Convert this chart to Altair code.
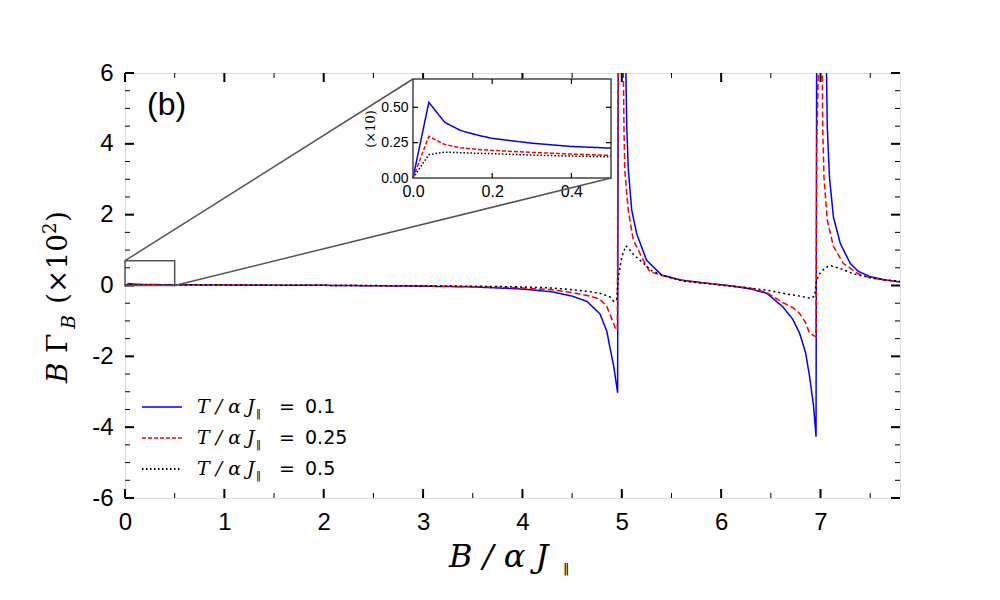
import altair as alt
import pandas as pd

# ---------------- data ----------------
series_keys = ["0.1", "0.25", "0.5"]
colors = ["#0000ff", "#ff0000", "#000000"]

b_blue = [0, 0.04, 0.1, 0.2, 0.5, 1, 2, 3, 3.5, 4, 4.3, 4.5, 4.65, 4.78, 4.85, 4.88, 4.92, 4.958,
          4.965, 4.99, 5.02, 5.04, 5.05, 5.066, 5.1, 5.15, 5.25, 5.4, 5.6, 5.8, 6.1, 6.3, 6.46, 6.62,
          6.72, 6.79, 6.85, 6.89, 6.93, 6.955, 6.962, 7.0, 7.04, 7.06, 7.068, 7.09, 7.13, 7.2, 7.3,
          7.38, 7.5, 7.65, 7.8]
g_blue = [0, 0.054, 0.038, 0.028, 0.021, 0.015, 0.005, -0.02, -0.04, -0.1, -0.18, -0.3, -0.45, -0.8,
          -1.3, -1.74, -2.3, -3.03, 8, 16, 12, 6.2, 4.47, 3.26, 2.13, 1.46, 0.71, 0.3, 0.15, 0.08, -0.01,
          -0.1, -0.22, -0.6, -0.95, -1.35, -1.9, -2.57, -3.4, -4.27, 8, 18, 10, 6.1, 4.47, 3.06, 1.93,
          1.18, 0.62, 0.4, 0.25, 0.16, 0.1]

b_red = [0, 0.04, 0.1, 0.2, 0.5, 1, 2, 3, 3.5, 4, 4.3, 4.5, 4.65, 4.78, 4.85, 4.9, 4.935, 4.955,
         4.962, 4.985, 5.008, 5.015, 5.022, 5.03, 5.065, 5.116, 5.217, 5.28, 5.4, 5.6, 5.8, 6.1, 6.3,
         6.46, 6.62, 6.72, 6.79, 6.85, 6.89, 6.955, 6.962, 6.99, 7.012, 7.018, 7.022, 7.035, 7.068,
         7.13, 7.23, 7.38, 7.5, 7.65, 7.8]
g_red = [0, 0.029, 0.023, 0.0195, 0.016, 0.012, 0.004, -0.015, -0.03, -0.07, -0.12, -0.2, -0.28, -0.38,
         -0.6, -0.95, -1.2, -1.26, 5, 9, 8, 6.2, 4.47, 3.26, 2.13, 1.28, 0.71, 0.4, 0.28, 0.15, 0.08,
         -0.01, -0.08, -0.2, -0.48, -0.62, -0.79, -1.05, -1.35, -1.45, 4, 7.5, 7, 6.1, 4.5, 3.06, 1.85,
         1.1, 0.62, 0.33, 0.22, 0.15, 0.1]

b_black = [0, 0.04, 0.08, 0.12, 0.2, 0.3, 0.5, 1, 2, 3, 3.5, 4, 4.3, 4.5, 4.65, 4.78, 4.88, 4.92,
           4.95, 4.965, 5.0, 5.04, 5.066, 5.116, 5.22, 5.3, 5.4, 5.62, 5.8, 6.1, 6.3, 6.46, 6.62, 6.79,
           6.9, 6.94, 6.96, 6.99, 7.045, 7.1, 7.2, 7.33, 7.5, 7.65, 7.8]
g_black = [0, 0.0165, 0.0183, 0.0179, 0.0172, 0.0162, 0.015, 0.011, 0.004, -0.01, -0.02, -0.04, -0.07,
           -0.12, -0.16, -0.22, -0.32, -0.45, -0.38, 0.24, 0.8, 1.12, 1.06, 0.88, 0.62, 0.42, 0.3, 0.12,
           0.07, -0.02, -0.08, -0.13, -0.22, -0.3, -0.36, -0.3, 0.14, 0.33, 0.5, 0.56, 0.48, 0.33, 0.22,
           0.16, 0.12]

# inset (x10 units)
ib = [0, 0.04, 0.08, 0.12, 0.16, 0.2, 0.3, 0.4, 0.5]
ig_blue = [0, 0.535, 0.394, 0.336, 0.305, 0.28, 0.246, 0.223, 0.211]
ig_red = [0, 0.294, 0.237, 0.214, 0.203, 0.195, 0.181, 0.169, 0.16]
ig_black = [0, 0.165, 0.183, 0.179, 0.175, 0.172, 0.162, 0.155, 0.15]

x_major = [0, 1, 2, 3, 4, 5, 6, 7]
x_minor = [0.5, 1.5, 2.5, 3.5, 4.5, 5.5, 6.5, 7.5]
y_major = [-6, -4, -2, 0, 2, 4, 6]
y_minor = [-5.5, -5, -4.5, -3.5, -3, -2.5, -1.5, -1, -0.5, 0.5, 1, 1.5, 2.5, 3, 3.5, 4.5, 5, 5.5]
ix_ticks = [0.0, 0.2, 0.4]
iy_ticks = [0.0, 0.25, 0.5]
zoom_box = [0, 0.5, 0, 0.7]

# ---------------- layout constants ----------------
W, H = 775, 425
IX0, IX1, IY0, IY1 = 288, 486, 6, 105  # inset pixel box inside plot

def frame(bs, gs, key):
    return pd.DataFrame({"B": bs, "G": gs, "s": key, "o": range(len(bs))})

main_df = pd.concat([frame(b_blue, g_blue, "0.1"), frame(b_red, g_red, "0.25"),
                     frame(b_black, g_black, "0.5")])
inset_df = pd.concat([frame(ib, ig_blue, "0.1"), frame(ib, ig_red, "0.25"),
                      frame(ib, ig_black, "0.5")])

xs = alt.Scale(domain=[0, 7.8], nice=False, zero=False)
ys = alt.Scale(domain=[-6, 6], nice=False, zero=False)
ixs = alt.Scale(domain=[0, 0.5], nice=False, zero=False, range=[IX0, IX1])
iys = alt.Scale(domain=[0, 0.7], nice=False, zero=False, range=[IY1, IY0])

col_scale = alt.Scale(domain=series_keys, range=colors)
dash_scale = alt.Scale(domain=series_keys, range=[[1, 0], [6, 3], [2, 3]])
width_scale = alt.Scale(domain=series_keys, range=[1.5, 1.5, 2.2])

dummy = alt.Data(values=[{"a": 1}])
layers = []

lines = alt.Chart(main_df).mark_line(clip=True).encode(
    x=alt.X("B:Q", scale=xs, axis=alt.Axis(orient="bottom", values=x_major, title=None,
            labelFont="Liberation Sans", labelFontSize=24, labelColor="black", labelPadding=12,
            ticks=False, domain=False, grid=False, labelFlush=False)),
    y=alt.Y("G:Q", scale=ys, axis=alt.Axis(orient="left", values=y_major, title=None,
            labelFont="Liberation Sans", labelFontSize=24, labelColor="black", labelPadding=12,
            ticks=False, domain=False, grid=False,
            labelExpr="datum.value < 0 ? '-' + abs(datum.value) : '' + datum.value")),
    color=alt.Color("s:N", scale=col_scale, legend=None),
    strokeDash=alt.StrokeDash("s:N", scale=dash_scale, legend=None),
    strokeWidth=alt.StrokeWidth("s:N", scale=width_scale, legend=None),
    order="o:Q",
)
layers.append(lines)

# ticks on the main frame (inside)
def xticks(vals, length, width):
    d = pd.DataFrame({"v": vals})
    base = alt.Chart(d).mark_rule(color="black", strokeWidth=width)
    return [base.encode(x=alt.X("v:Q", scale=xs, axis=None), y=alt.value(H), y2=alt.value(H - length)),
            base.encode(x=alt.X("v:Q", scale=xs, axis=None), y=alt.value(0), y2=alt.value(length))]

def yticks(vals, length, width):
    d = pd.DataFrame({"v": vals})
    base = alt.Chart(d).mark_rule(color="black", strokeWidth=width)
    return [base.encode(y=alt.Y("v:Q", scale=ys, axis=None), x=alt.value(0), x2=alt.value(length)),
            base.encode(y=alt.Y("v:Q", scale=ys, axis=None), x=alt.value(W), x2=alt.value(W - length))]

layers += xticks(x_major, 9, 2) + xticks(x_minor, 5, 1)
layers += yticks(y_major, 9, 2) + yticks(y_minor, 5, 1)

# zoom box on main plot
box_df = pd.DataFrame({"x0": [zoom_box[0]], "x1": [zoom_box[1]], "y0": [zoom_box[2]], "y1": [zoom_box[3]]})
layers.append(alt.Chart(box_df).mark_rect(fillOpacity=0, stroke="#555555", strokeWidth=1.5).encode(
    x=alt.X("x0:Q", scale=xs, axis=None), x2="x1:Q",
    y=alt.Y("y0:Q", scale=ys, axis=None), y2="y1:Q"))

# connectors from zoom box to inset
px_box_x1 = 0.5 / 7.8 * W
px_box_y1 = (6 - 0.7) / 12 * H
px_zero = 6 / 12 * H
layers.append(alt.Chart(dummy).mark_rule(color="#555555", strokeWidth=1.5).encode(
    x=alt.value(0), y=alt.value(px_box_y1), x2=alt.value(IX0), y2=alt.value(IY0)))
layers.append(alt.Chart(dummy).mark_rule(color="#555555", strokeWidth=1.5).encode(
    x=alt.value(px_box_x1), y=alt.value(px_zero), x2=alt.value(IX1), y2=alt.value(IY1)))

# legend (manual)
leg_rows = [334, 365, 396]
leg_dash = [[1, 0], [4, 2], [1.5, 2.5]]
leg_width = [1.5, 1.5, 2]
for i, key in enumerate(series_keys):
    yy = leg_rows[i]
    layers.append(alt.Chart(dummy).mark_rule(color=colors[i], strokeWidth=leg_width[i], strokeDash=leg_dash[i]).encode(
        x=alt.value(17), x2=alt.value(57), y=alt.value(yy)))
    layers.append(alt.Chart(dummy).mark_text(text="T / α J", font="DejaVu Serif", fontStyle="italic",
        fontSize=19, align="left", baseline="middle", color="black").encode(x=alt.value(72), y=alt.value(yy)))
    layers.append(alt.Chart(dummy).mark_text(text="‖", font="DejaVu Sans", fontSize=10,
        align="left", baseline="middle", color="black").encode(x=alt.value(131), y=alt.value(yy + 7)))
    layers.append(alt.Chart(dummy).mark_text(text="=", font="DejaVu Sans", fontSize=19,
        align="left", baseline="middle", color="black").encode(x=alt.value(154), y=alt.value(yy)))
    layers.append(alt.Chart(dummy).mark_text(text=key, font="DejaVu Sans", fontSize=19,
        align="left", baseline="middle", color="black").encode(x=alt.value(180), y=alt.value(yy)))

# panel label
layers.append(alt.Chart(dummy).mark_text(text="(b)", font="Liberation Sans", fontSize=32,
    align="left", baseline="alphabetic", color="black").encode(x=alt.value(22), y=alt.value(42)))

# x-axis title
layers.append(alt.Chart(dummy).mark_text(text="B / α J", font="DejaVu Serif", fontStyle="italic",
    fontSize=32, align="left", baseline="alphabetic", color="black").encode(x=alt.value(324), y=alt.value(494)))
layers.append(alt.Chart(dummy).mark_text(text="‖", font="DejaVu Sans", fontSize=13,
    align="left", baseline="alphabetic", color="black").encode(x=alt.value(438), y=alt.value(500)))

# y-axis title (rotated pieces)
def ypiece(txt, ypos, xpos, size, italic):
    kw = dict(text=txt, font="DejaVu Serif", fontSize=size, angle=270, align="left",
              baseline="alphabetic", color="black")
    if italic:
        kw["fontStyle"] = "italic"
    return alt.Chart(dummy).mark_text(**kw).encode(x=alt.value(xpos), y=alt.value(ypos))

layers += [
    ypiece("B", 310, -58, 28, True),
    ypiece("Γ", 280, -58, 28, False),
    ypiece("B", 256, -50, 19, True),
    ypiece("(×10", 231, -58, 28, False),
    ypiece("2", 161, -69, 18, False),
    ypiece(")", 149, -58, 28, False),
]

# ---------------- inset ----------------
ibox = pd.DataFrame({"x0": [0], "x1": [0.5], "y0": [0], "y1": [0.7]})
layers.append(alt.Chart(ibox).mark_rect(fill="white").encode(
    x=alt.X("x0:Q", scale=ixs, axis=None), x2="x1:Q",
    y=alt.Y("y0:Q", scale=iys, axis=None), y2="y1:Q"))
layers.append(alt.Chart(inset_df).mark_line().encode(
    x=alt.X("B:Q", scale=ixs, axis=alt.Axis(orient="bottom", offset=-(H - IY1), values=ix_ticks,
            format=".1f", title=None, labelFont="Liberation Sans", labelFontSize=16, labelColor="black",
            labelPadding=5, ticks=False, domain=False, grid=False, labelFlush=False)),
    y=alt.Y("G:Q", scale=iys, axis=alt.Axis(orient="left", offset=-IX0, values=iy_ticks,
            format=".2f", title="(×10)", titleFont="DejaVu Serif", titleFontSize=13,
            titleFontWeight="normal", titleColor="black", titlePadding=3,
            labelFont="Liberation Sans", labelFontSize=14, labelColor="black",
            labelPadding=5, ticks=False, domain=False, grid=False, labelFlush=False)),
    color=alt.Color("s:N", scale=col_scale, legend=None),
    strokeDash=alt.StrokeDash("s:N", scale=alt.Scale(domain=series_keys, range=[[1, 0], [4, 2], [1.5, 2]]), legend=None),
    strokeWidth=alt.StrokeWidth("s:N", scale=alt.Scale(domain=series_keys, range=[1.5, 1.5, 1.8]), legend=None),
    order="o:Q",
))
layers.append(alt.Chart(ibox).mark_rect(fillOpacity=0, stroke="#444444", strokeWidth=1.5).encode(
    x=alt.X("x0:Q", scale=ixs, axis=None), x2="x1:Q",
    y=alt.Y("y0:Q", scale=iys, axis=None), y2="y1:Q"))

ixd = pd.DataFrame({"v": ix_ticks[1:]})
iyd = pd.DataFrame({"v": iy_ticks[1:]})
itick = dict(color="black", strokeWidth=1.2)
layers += [
    alt.Chart(ixd).mark_rule(**itick).encode(x=alt.X("v:Q", scale=ixs, axis=None), y=alt.value(IY1), y2=alt.value(IY1 - 5)),
    alt.Chart(ixd).mark_rule(**itick).encode(x=alt.X("v:Q", scale=ixs, axis=None), y=alt.value(IY0), y2=alt.value(IY0 + 5)),
    alt.Chart(iyd).mark_rule(**itick).encode(y=alt.Y("v:Q", scale=iys, axis=None), x=alt.value(IX0), x2=alt.value(IX0 + 5)),
    alt.Chart(iyd).mark_rule(**itick).encode(y=alt.Y("v:Q", scale=iys, axis=None), x=alt.value(IX1), x2=alt.value(IX1 - 5)),
]

chart = alt.layer(*layers).resolve_scale(
    x="independent", y="independent", color="independent", strokeDash="independent",
    strokeWidth="independent"
).properties(
    width=W, height=H,
    padding={"left": 117, "top": 65, "right": 92, "bottom": 92},
    autosize=alt.AutoSizeParams(type="none"),
).configure_view(stroke="#555555", strokeWidth=2).configure(background="white")

chart.save("out.html", embed_options={"renderer": "svg", "actions": False})
